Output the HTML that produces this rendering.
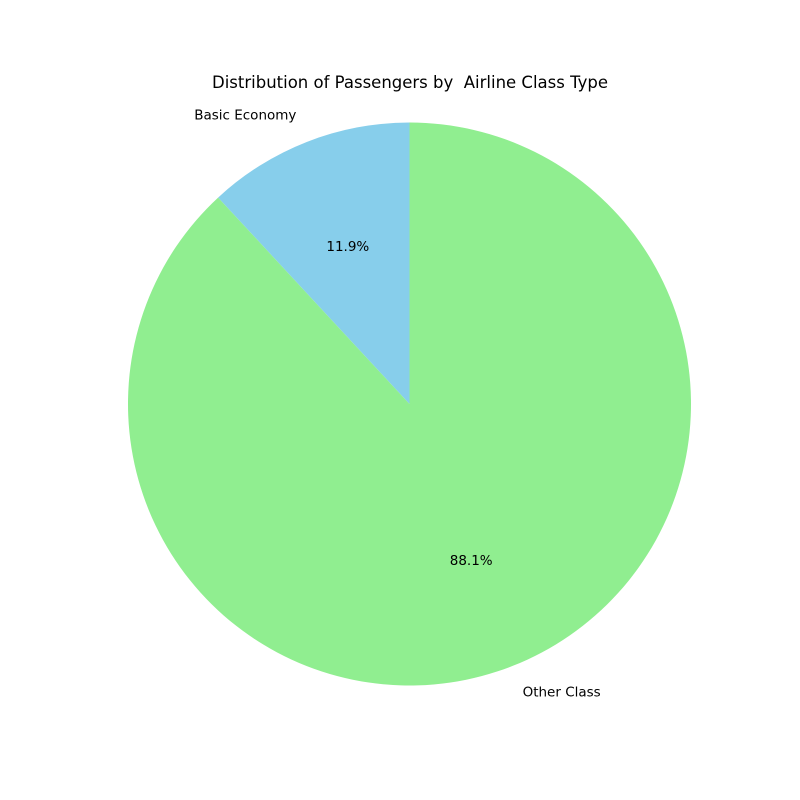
<!DOCTYPE html>
<html>
<head>
<meta charset="utf-8">
<style>
  html, body { margin: 0; padding: 0; background: #ffffff; }
  svg { display: block; font-family: "DejaVu Sans", "Liberation Sans", sans-serif; }
</style>
</head>
<body>
<svg id="chart" width="800" height="800" viewBox="0 0 800 800">
  <rect width="800" height="800" fill="#ffffff"></rect>
  <text x="410" y="88" text-anchor="middle" font-size="16.5" fill="#000" style="white-space:pre" xml:space="preserve">Distribution of Passengers by  Airline Class Type</text>
  <g id="slices"></g>
  <g id="labels"></g>
</svg>
<script>
const categories = ["Basic Economy", "Other Class"];
const values = [11.9, 88.1];
const colors = ["#87CEEB", "#90EE90"];

const cx = 409.5, cy = 404, r = 281.5;
const NS = "http://www.w3.org/2000/svg";
const slicesG = document.getElementById('slices');
const labelsG = document.getElementById('labels');
const total = values.reduce((a, b) => a + b, 0);
function pt(deg, rad) {
  const a = deg * Math.PI / 180;
  return [cx + rad * Math.cos(a), cy - rad * Math.sin(a)];
}
let start = 90;
values.forEach((v, i) => {
  const sweep = v / total * 360;
  const end = start + sweep;
  const [x1, y1] = pt(start, r);
  const [x2, y2] = pt(end, r);
  const large = sweep > 180 ? 1 : 0;
  const path = document.createElementNS(NS, 'path');
  path.setAttribute('d', `M${cx},${cy} L${x1},${y1} A${r},${r} 0 ${large} 0 ${x2},${y2} Z`);
  path.setAttribute('fill', colors[i]);
  
  
  slicesG.appendChild(path);

  const mid = start + sweep / 2;
  const [lx, ly] = pt(mid, r * 1.1);
  const lab = document.createElementNS(NS, 'text');
  lab.setAttribute('x', lx);
  lab.setAttribute('y', ly + 4);
  lab.setAttribute('font-size', '13.5');
  lab.setAttribute('text-anchor', Math.cos(mid * Math.PI / 180) < 0 ? 'end' : 'start');
  lab.textContent = categories[i];
  
  
  labelsG.appendChild(lab);

  const [px, py] = pt(mid, r * 0.6);
  const pct = document.createElementNS(NS, 'text');
  pct.setAttribute('x', px);
  pct.setAttribute('y', py + 4);
  pct.setAttribute('font-size', '13.5');
  pct.setAttribute('text-anchor', 'middle');
  pct.textContent = (v / total * 100).toFixed(1) + '%';
  
  
  labelsG.appendChild(pct);

  start = end;
});
</script>
</body>
</html>
